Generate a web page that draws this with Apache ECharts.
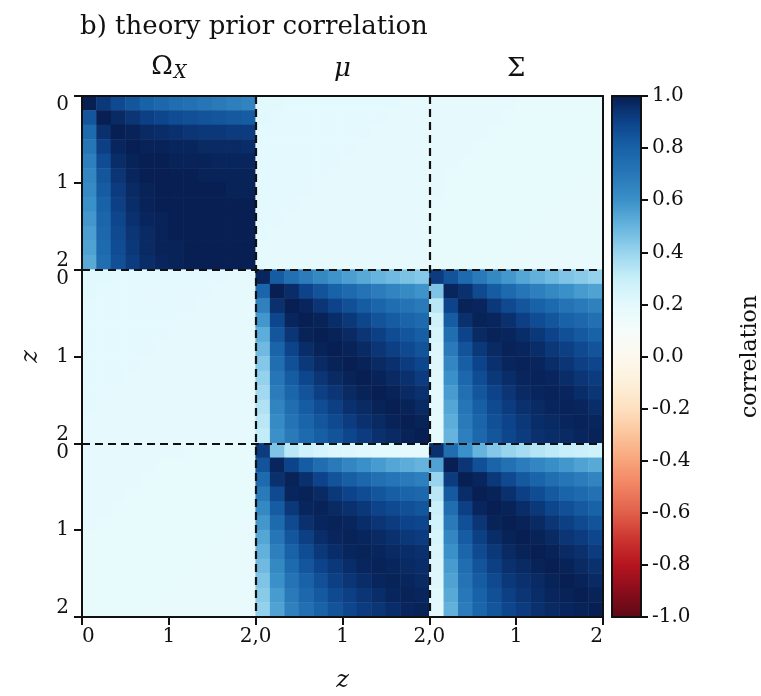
<!DOCTYPE html>
<html><head><meta charset="utf-8">
<script src="https://cdn.jsdelivr.net/npm/echarts@6/dist/echarts.min.js"></script>
<style>html,body{margin:0;padding:0;background:#fff}#c{width:761px;height:696px}</style>
</head><body><div id="c"></div>
<script>
// ---------- data ----------
const titleText = 'b) theory prior correlation';
const blockNames = ['Ω_X', 'μ', 'Σ'];
const xTickLabels = ['0', '1', '2,0', '1', '2,0', '1', '2'];
const yTickLabels = ['0', '1', '2\n0', '1', '2\n0', '1', '2'];
const blockEdges = [2, 4];
const axisName = 'z';
const colorbarName = 'correlation';

// 12x12 samples per block (rows: first quantity z, top->bottom; cols: second quantity z, left->right)
const OmegaOmega = [
  [1.00, .93, .88, .84, .80, .77, .75, .73, .71, .69, .67, .65],
  [.84, 1.00, .97, .94, .91, .89, .87, .86, .85, .84, .83, .82],
  [.76, .95, 1.00, .99, .97, .96, .95, .94, .93, .93, .92, .92],
  [.71, .91, .98, 1.00, .99, .99, .98, .98, .97, .97, .97, .96],
  [.67, .87, .96, .99, 1.00, 1.00, .99, .99, .99, .98, .98, .98],
  [.64, .84, .94, .98, 1.00, 1.00, 1.00, 1.00, .99, .99, .99, .99],
  [.62, .82, .92, .97, .99, 1.00, 1.00, 1.00, 1.00, 1.00, .99, .99],
  [.60, .80, .91, .96, .99, 1.00, 1.00, 1.00, 1.00, 1.00, 1.00, 1.00],
  [.58, .78, .89, .95, .98, .99, 1.00, 1.00, 1.00, 1.00, 1.00, 1.00],
  [.56, .77, .88, .94, .97, .99, 1.00, 1.00, 1.00, 1.00, 1.00, 1.00],
  [.55, .76, .87, .93, .97, .99, .99, 1.00, 1.00, 1.00, 1.00, 1.00],
  [.53, .75, .86, .92, .96, .98, .99, 1.00, 1.00, 1.00, 1.00, 1.00]
];
const OmegaMu = [
  [.21, .21, .20, .20, .20, .20, .20, .20, .20, .20, .19, .19],
  [.21, .20, .20, .20, .20, .20, .20, .20, .20, .19, .19, .19],
  [.20, .20, .20, .20, .20, .20, .20, .20, .19, .19, .19, .19],
  [.20, .20, .20, .20, .20, .20, .20, .19, .19, .19, .19, .19],
  [.20, .20, .20, .20, .20, .20, .19, .19, .19, .19, .19, .19],
  [.20, .20, .20, .20, .20, .19, .19, .19, .19, .19, .19, .19],
  [.20, .20, .20, .20, .19, .19, .19, .19, .19, .19, .19, .19],
  [.20, .20, .20, .19, .19, .19, .19, .19, .19, .19, .19, .19],
  [.20, .20, .19, .19, .19, .19, .19, .19, .19, .19, .19, .19],
  [.20, .19, .19, .19, .19, .19, .19, .19, .19, .19, .19, .19],
  [.19, .19, .19, .19, .19, .19, .19, .19, .19, .19, .19, .19],
  [.19, .19, .19, .19, .19, .19, .19, .19, .19, .19, .19, .19]
];
const OmegaSigma = [
  [.19, .19, .19, .19, .19, .19, .18, .18, .18, .18, .18, .18],
  [.19, .19, .19, .19, .19, .18, .18, .18, .18, .18, .18, .18],
  [.19, .19, .19, .19, .18, .18, .18, .18, .18, .18, .18, .18],
  [.19, .19, .19, .18, .18, .18, .18, .18, .18, .18, .18, .18],
  [.19, .19, .18, .18, .18, .18, .18, .18, .18, .18, .18, .18],
  [.19, .18, .18, .18, .18, .18, .18, .18, .18, .18, .18, .17],
  [.19, .18, .18, .18, .18, .18, .18, .18, .18, .18, .17, .17],
  [.18, .18, .18, .18, .18, .18, .18, .18, .18, .17, .17, .17],
  [.18, .18, .18, .18, .18, .18, .18, .18, .17, .17, .17, .17],
  [.18, .18, .18, .18, .18, .18, .18, .17, .17, .17, .17, .17],
  [.18, .18, .18, .18, .18, .18, .17, .17, .17, .17, .17, .17],
  [.18, .18, .18, .18, .18, .17, .17, .17, .17, .17, .17, .17]
];
const MuMu = [
  [.98, .82, .74, .68, .63, .59, .56, .53, .50, .48, .46, .44],
  [.78, 1.00, .96, .90, .85, .80, .76, .72, .68, .65, .62, .59],
  [.66, .95, 1.00, .98, .94, .90, .86, .82, .78, .75, .72, .69],
  [.58, .89, .98, 1.00, .99, .96, .93, .89, .85, .82, .79, .76],
  [.52, .84, .94, .99, 1.00, .99, .97, .94, .91, .87, .84, .81],
  [.48, .79, .90, .96, .99, 1.00, .99, .97, .94, .91, .88, .85],
  [.44, .75, .86, .93, .97, .99, 1.00, .99, .97, .95, .92, .89],
  [.41, .71, .82, .89, .94, .97, .99, 1.00, .99, .97, .95, .92],
  [.38, .68, .78, .85, .91, .94, .97, .99, 1.00, .99, .97, .95],
  [.35, .65, .75, .82, .87, .91, .95, .97, .99, 1.00, .99, .97],
  [.33, .62, .72, .79, .84, .88, .92, .95, .97, .99, 1.00, .99],
  [.31, .60, .69, .76, .81, .85, .89, .92, .95, .97, .99, 1.00]
];
const MuSigma = [
  [.92, .85, .76, .69, .63, .58, .54, .51, .48, .45, .43, .41],
  [.45, .98, .95, .88, .82, .76, .71, .67, .63, .60, .57, .55],
  [.33, .90, .99, .98, .93, .88, .84, .80, .76, .72, .69, .66],
  [.28, .82, .95, .99, .98, .95, .91, .87, .84, .80, .77, .74],
  [.25, .75, .90, .97, .99, .98, .96, .93, .90, .86, .83, .80],
  [.23, .69, .85, .93, .97, .99, .98, .96, .93, .91, .88, .85],
  [.22, .64, .81, .90, .95, .98, .99, .98, .96, .94, .91, .89],
  [.21, .60, .77, .87, .93, .96, .98, .99, .98, .96, .94, .92],
  [.20, .57, .74, .84, .90, .94, .97, .98, .99, .98, .96, .94],
  [.20, .54, .71, .81, .88, .92, .95, .97, .98, .99, .98, .96],
  [.19, .52, .69, .79, .86, .90, .93, .96, .97, .98, .99, .98],
  [.19, .50, .67, .77, .84, .89, .92, .95, .96, .97, .98, .99]
];
const SigmaSigma = [
  [.95, .75, .60, .50, .44, .40, .37, .34, .32, .30, .29, .28],
  [.55, 1.00, .94, .86, .79, .73, .68, .64, .61, .58, .55, .53],
  [.40, .92, 1.00, .98, .93, .88, .83, .79, .75, .71, .68, .65],
  [.33, .83, .96, 1.00, .99, .95, .91, .87, .83, .79, .76, .73],
  [.29, .75, .91, .98, 1.00, .99, .96, .93, .89, .86, .83, .80],
  [.27, .69, .86, .94, .99, 1.00, .99, .97, .94, .91, .88, .85],
  [.25, .64, .82, .91, .96, .99, 1.00, .99, .97, .94, .92, .89],
  [.24, .60, .78, .88, .93, .97, .99, 1.00, .99, .97, .95, .92],
  [.23, .57, .75, .85, .91, .95, .97, .99, 1.00, .99, .97, .95],
  [.22, .55, .72, .82, .88, .93, .95, .97, .99, 1.00, .99, .97],
  [.21, .53, .70, .80, .86, .91, .94, .96, .98, .99, 1.00, .99],
  [.20, .51, .68, .78, .84, .89, .92, .95, .97, .98, .99, 1.00]
];
// RdBu-like colour stops for -1.0 ... 1.0 (step 0.1)
const colormap = ['#5e0a16', '#8a0d1c', '#b5141f', '#cc3530', '#e0604a', '#f08262', '#f8a47a', '#fcc49c', '#fde0c0', '#fdf0da',
  '#fdf8ef', '#f4fcfa', '#e4f9fd', '#c8eff9', '#98d4ee', '#66b4de', '#3a90c8', '#2877b8', '#1862a8', '#0d438a', '#071f52'];

// ---------- assemble ----------
const transpose = m => m[0].map((_, j) => m.map(r => r[j]));
const blocks = [
  [OmegaOmega, OmegaMu, OmegaSigma],
  [transpose(OmegaMu), MuMu, MuSigma],
  [transpose(OmegaSigma), transpose(MuSigma), SigmaSigma]
];
const N = 12;
const heat = [];
for (let bi = 0; bi < 3; bi++) for (let bj = 0; bj < 3; bj++) {
  const m = blocks[bi][bj];
  for (let i = 0; i < N; i++) for (let j = 0; j < N; j++) heat.push([bj * N + j, bi * N + i, m[i][j]]);
}
const cats = Array.from({length: 3 * N}, (_, k) => k);

const FONT = 'DejaVu Serif';
const G = {left: 82, top: 96, width: 521, height: 521, containLabel: false, outerBoundsMode: 'none'};
const CB = {left: 612, top: 96, width: 29, height: 521, containLabel: false, outerBoundsMode: 'none'};
const black = '#111';
const frameAxis = (pos, grid) => ({
  type: 'category', gridIndex: grid, position: pos, data: cats, z: 10,
  axisLine: {show: true, onZero: false, lineStyle: {color: black, width: 2}},
  axisTick: {show: false}, axisLabel: {show: false}, splitLine: {show: false}
});

const option = {
  animation: false,
  backgroundColor: '#fff',
  title: {text: titleText, left: 75, top: 9,
    textStyle: {fontFamily: FONT, fontWeight: 'normal', fontSize: 26, color: black}},
  grid: [
    Object.assign({}, G),
    Object.assign({}, CB),
    Object.assign({}, G)
  ],
  xAxis: [
    frameAxis('top', 0),
    {type: 'value', gridIndex: 0, position: 'bottom', min: 0, max: 6, interval: 1, z: 10,
      axisLine: {show: true, onZero: false, lineStyle: {color: black, width: 2}},
      axisTick: {show: true, length: 8, lineStyle: {color: black, width: 2}},
      splitLine: {show: false},
      axisLabel: {fontFamily: FONT, fontSize: 20, color: black, margin: 10,
        formatter: v => xTickLabels[Math.round(v)], alignMinLabel: 'left', alignMaxLabel: 'right'},
      name: axisName, nameLocation: 'middle', nameGap: 52,
      nameTextStyle: {fontFamily: FONT, fontStyle: 'italic', fontSize: 24, color: black}},
    frameAxis('bottom', 1),
    frameAxis('top', 1),
    {type: 'category', gridIndex: 2, position: 'top', data: blockNames,
      axisLine: {show: false}, axisTick: {show: false}, splitLine: {show: false},
      axisLabel: {margin: 14, color: black,
        formatter: v => v === 'Ω_X' ? '{b|Ω}{s|X}' : (v === 'μ' ? '{i|μ}' : '{b|' + v + '}'),
        rich: {b: {fontFamily: FONT, fontSize: 26, color: black},
               i: {fontFamily: FONT, fontStyle: 'italic', fontSize: 26, color: black},
               s: {fontFamily: FONT, fontStyle: 'italic', fontSize: 18, color: black, padding: [12, 0, 0, 1]}}}}
  ],
  yAxis: [
    Object.assign(frameAxis('right', 0), {inverse: true}),
    {type: 'value', gridIndex: 0, position: 'left', min: 0, max: 6, interval: 1, inverse: true, z: 10,
      axisLine: {show: true, onZero: false, lineStyle: {color: black, width: 2}},
      axisTick: {show: true, length: 8, lineStyle: {color: black, width: 2}},
      splitLine: {show: false},
      axisLabel: {fontFamily: FONT, fontSize: 20, color: black, margin: 13, lineHeight: 18,
        formatter: v => yTickLabels[Math.round(v)], verticalAlignMinLabel: 'top', verticalAlignMaxLabel: 'bottom'},
      name: axisName, nameLocation: 'middle', nameGap: 39, nameRotate: 90,
      nameTextStyle: {fontFamily: FONT, fontStyle: 'italic', fontSize: 24, color: black}},
    frameAxis('left', 1),
    {type: 'value', gridIndex: 1, position: 'right', min: -1, max: 1, interval: 0.2, z: 10,
      axisLine: {show: true, onZero: false, lineStyle: {color: black, width: 2}},
      axisTick: {show: true, length: 7, lineStyle: {color: black, width: 2}},
      splitLine: {show: false},
      axisLabel: {fontFamily: FONT, fontSize: 20, color: black, margin: 11,
        formatter: v => (Math.abs(v) < 1e-9 ? 0 : v).toFixed(1)},
      name: colorbarName, nameLocation: 'middle', nameGap: 98, nameRotate: 90,
      nameTextStyle: {fontFamily: FONT, fontSize: 22, color: black}},
    {type: 'value', gridIndex: 2, show: false}
  ],
  visualMap: {
    type: 'continuous', min: -1, max: 1, seriesIndex: 0, calculable: false, hoverLink: false,
    orient: 'vertical', left: CB.left, top: CB.top, itemWidth: CB.width, itemHeight: CB.height,
    padding: 0, text: null, inRange: {color: colormap}
  },
  series: [
    {type: 'heatmap', xAxisIndex: 0, yAxisIndex: 0, data: heat, z: 1, progressive: 0,
      itemStyle: {borderWidth: 0}, emphasis: {disabled: true}},
    {type: 'scatter', xAxisIndex: 1, yAxisIndex: 1, data: [], z: 5,
      markLine: {silent: true, symbol: 'none', label: {show: false}, animation: false,
        lineStyle: {color: black, type: [8, 5], width: 2.2},
        data: blockEdges.map(e => ({xAxis: e})).concat(blockEdges.map(e => ({yAxis: e})))}}
  ]
};
const chart = echarts.init(document.getElementById('c'), null, {renderer: 'canvas'});
chart.setOption(option);
</script>
</body></html>
